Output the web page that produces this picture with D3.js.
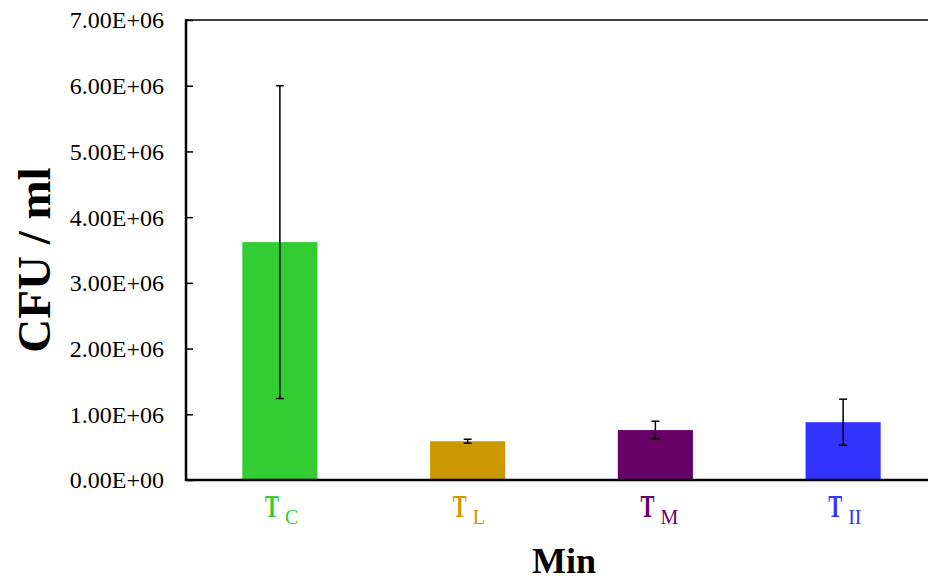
<!DOCTYPE html>
<html>
<head>
<meta charset="utf-8">
<script src="https://cdn.jsdelivr.net/npm/d3@7"></script>
<style>
  html, body { margin: 0; padding: 0; background: #fff; }
  svg { display: block; }
</style>
</head>
<body>
<svg id="chart" width="928" height="583"></svg>
<script>
const categories = ["C", "L", "M", "II"];
const means = [3.62e6, 0.59e6, 0.76e6, 0.88e6];
const errors = [2.38e6, 0.03e6, 0.135e6, 0.35e6];
const colors = ["#33CC33", "#CC9900", "#660066", "#3333FF"];
const tickValues = [0, 1e6, 2e6, 3e6, 4e6, 5e6, 6e6, 7e6];
const tickLabels = ["0.00E+00", "1.00E+06", "2.00E+06", "3.00E+06", "4.00E+06", "5.00E+06", "6.00E+06", "7.00E+06"];

(function () {
const svg = d3.select("#chart");
const serif = "'Liberation Serif', 'Times New Roman', serif";
const pLeft = 186, pRight = 937, pTop = 20, pBottom = 480;

const x = d3.scaleBand().domain(categories).range([pLeft, pRight]).paddingInner(0.6).paddingOuter(0.3);
const y = d3.scaleLinear().domain([0, 7e6]).range([pBottom, pTop]);

// top border line
svg.append("line").attr("x1", pLeft).attr("x2", 928).attr("y1", pTop).attr("y2", pTop)
  .attr("stroke", "#000").attr("stroke-width", 1.5);

// bars
svg.selectAll("rect.bar").data(categories).enter().append("rect")
  .attr("class", "bar")
  .attr("x", d => x(d))
  .attr("width", x.bandwidth())
  .attr("y", (d, i) => y(means[i]))
  .attr("height", (d, i) => y(0) - y(means[i]))
  .attr("fill", (d, i) => colors[i]);

// error bars
const cap = 4;
const eb = svg.selectAll("g.err").data(categories).enter().append("g").attr("class", "err")
  .attr("stroke", "#000").attr("stroke-width", 1.5);
const cx = d => x(d) + x.bandwidth() / 2;
eb.append("line")
  .attr("x1", cx).attr("x2", cx)
  .attr("y1", (d, i) => y(means[i] + errors[i])).attr("y2", (d, i) => y(means[i] - errors[i]));
eb.append("line")
  .attr("x1", d => cx(d) - cap).attr("x2", d => cx(d) + cap)
  .attr("y1", (d, i) => y(means[i] + errors[i])).attr("y2", (d, i) => y(means[i] + errors[i]));
eb.append("line")
  .attr("x1", d => cx(d) - cap).attr("x2", d => cx(d) + cap)
  .attr("y1", (d, i) => y(means[i] - errors[i])).attr("y2", (d, i) => y(means[i] - errors[i]));

// y axis
const yAxis = d3.axisRight(y).tickValues(tickValues).tickSize(7).tickFormat("");
const gy = svg.append("g").attr("transform", `translate(${pLeft},0)`).call(yAxis);
gy.select(".domain").remove();
gy.selectAll(".tick line").attr("stroke", "#000").attr("stroke-width", 1.5);
svg.append("line").attr("x1", pLeft).attr("x2", pLeft).attr("y1", pTop - 0.75).attr("y2", pBottom + 1)
  .attr("stroke", "#000").attr("stroke-width", 2.5);

svg.selectAll("text.ytick").data(tickValues).enter().append("text")
  .attr("class", "ytick")
  .attr("x", 164)
  .attr("y", d => y(d))
  .attr("dy", "0.35em")
  .attr("text-anchor", "end")
  .attr("font-family", serif)
  .attr("font-size", 24)
  .attr("fill", "#000")
  .text((d, i) => tickLabels[i]);

// x axis
svg.append("line").attr("x1", pLeft).attr("x2", 928).attr("y1", pBottom).attr("y2", pBottom)
  .attr("stroke", "#000").attr("stroke-width", 2.5);

// x labels: T with subscript
const xl = svg.selectAll("g.xlab").data(categories).enter().append("g").attr("class", "xlab")
  .attr("transform", d => `translate(${cx(d)},0)`);
xl.append("text")
  .attr("transform", "translate(-15,517) scale(1,1.5)")
  .attr("font-family", serif)
  .attr("font-weight", "bold")
  .attr("font-size", 21)
  .attr("fill", (d, i) => colors[i])
  .text("T");
xl.append("text")
  .attr("transform", "translate(5,524) scale(1,1.1)")
  .attr("font-family", serif)
  .attr("font-size", 20)
  .attr("fill", (d, i) => colors[i])
  .text(d => d);

// axis titles
svg.append("text")
  .attr("x", 564).attr("y", 573)
  .attr("text-anchor", "middle")
  .attr("font-family", serif)
  .attr("font-weight", "bold")
  .attr("font-size", 36)
  .attr("fill", "#000")
  .text("Min");

svg.append("text")
  .attr("transform", "translate(50,260) rotate(-90)")
  .attr("text-anchor", "middle")
  .attr("font-family", serif)
  .attr("font-weight", "bold")
  .attr("font-size", 47)
  .attr("fill", "#000")
  .text("CFU / ml");
})();
</script>
</body>
</html>
